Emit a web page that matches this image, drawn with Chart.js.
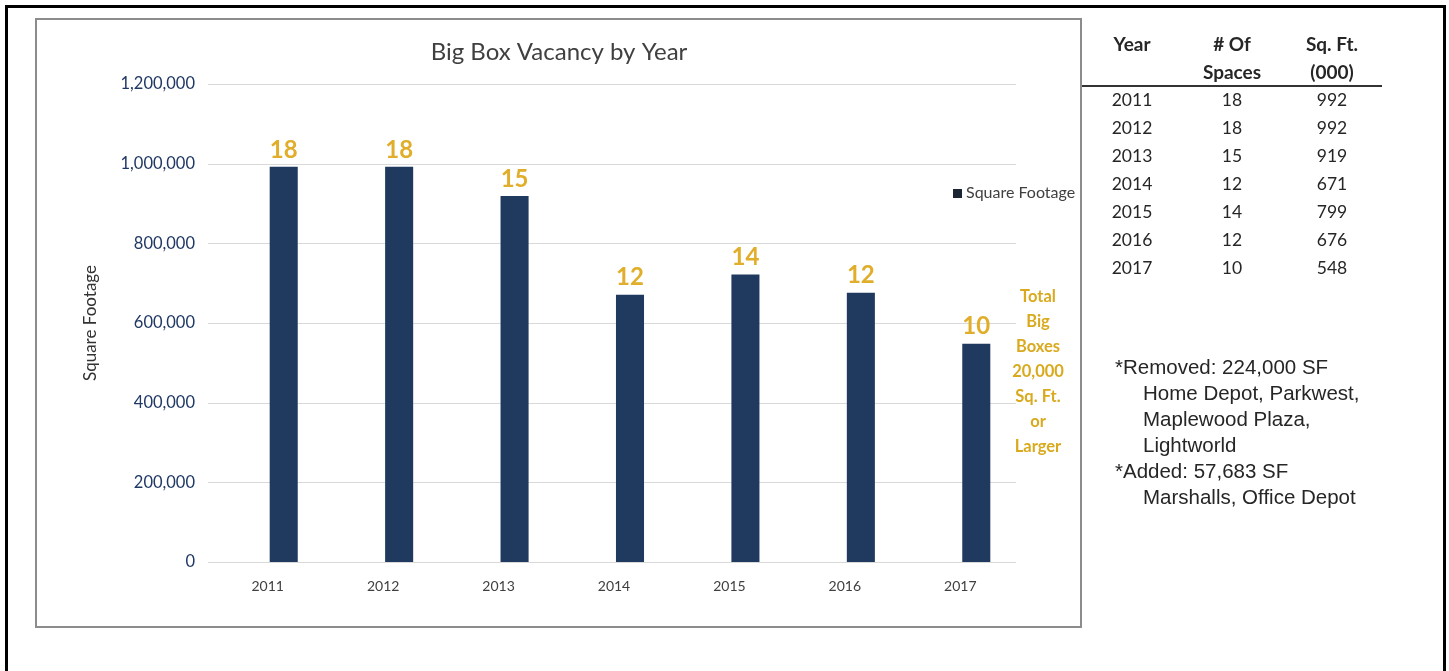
<!DOCTYPE html>
<html>
<head>
<meta charset="utf-8">
<script src="https://cdn.jsdelivr.net/npm/chart.js@4/dist/chart.umd.min.js"></script>
<style>
  html, body { margin: 0; padding: 0; background: #fff; width: 1449px; height: 671px; overflow: hidden; }
  #frame { position: absolute; left: 5px; top: 5px; width: 1441px; height: 720px; border: 3px solid #000; box-sizing: border-box; }
  #box { position: absolute; left: 35px; top: 18px; width: 1047px; height: 610px; border: 2px solid #8c8c8c; box-sizing: border-box; }
  #wrap { position: absolute; left: 0; top: 0; width: 1449px; height: 671px; }
  .cell { position: absolute; width: 100px; text-align: center; font-family: Lato, sans-serif; font-size: 17.5px; color: #262626; line-height: 28px; }
  .head { font-weight: bold; font-size: 19px; }
  #rule { position: absolute; left: 1082px; top: 85px; width: 300px; height: 2px; background: #333; }
  #notes { position: absolute; left: 1115px; top: 354px; font-family: "Liberation Sans", Arial, sans-serif; font-size: 20.5px; line-height: 26px; color: #262626; white-space: nowrap; }
  #notes .in { padding-left: 28px; }
</style>
</head>
<body>
<div id="frame"></div>
<div id="box"></div>
<div id="wrap"><canvas id="bigBoxChart" width="1449" height="671"></canvas></div>
<div id="table"></div>
<div id="rule"></div>
<div id="notes">
  <div>*Removed: 224,000 SF</div>
  <div class="in">Home Depot, Parkwest,</div>
  <div class="in">Maplewood Plaza,</div>
  <div class="in">Lightworld</div>
  <div>*Added: 57,683 SF</div>
  <div class="in">Marshalls, Office Depot</div>
</div>
<script>
// chart data
const years = ["2011", "2012", "2013", "2014", "2015", "2016", "2017"];
const squareFootage = [992000, 992000, 919000, 671000, 722000, 676000, 548000];
const spaceCounts = [18, 18, 15, 12, 14, 12, 10];
const yTicks = [0, 200000, 400000, 600000, 800000, 1000000, 1200000];

// side table data
const tableSpaces = [18, 18, 15, 12, 14, 12, 10];
const tableSqFt = [992, 992, 919, 671, 799, 676, 548];
const totalNote = ["Total", "Big", "Boxes", "20,000", "Sq. Ft.", "or", "Larger"];

const gold = "#E0AE2A";
const navy = "#1F3A5E";

// build the side table
const tableEl = document.getElementById("table");
function addCell(text, col, top, head) {
    const d = document.createElement("div");
    d.className = head ? "cell head" : "cell";
    d.style.left = (1082 + col * 100) + "px";
    d.style.top = top + "px";
    d.textContent = text;
    tableEl.appendChild(d);
}
addCell("Year", 0, 30, true);
addCell("# Of", 1, 30, true);
addCell("Spaces", 1, 58, true);
addCell("Sq. Ft.", 2, 30, true);
addCell("(000)", 2, 58, true);
years.forEach((y, i) => {
    addCell(y, 0, 86 + i * 28);
    addCell(String(tableSpaces[i]), 1, 86 + i * 28);
    addCell(String(tableSqFt[i]), 2, 86 + i * 28);
});

// gridlines drawn at the y scale ticks, a bit left of the category band
const gridPlugin = {
    id: "gridLines",
    beforeDatasetsDraw(chart) {
        const ctx = chart.ctx;
        const y = chart.scales.y;
        ctx.save();
        ctx.strokeStyle = "#d9d9d9";
        ctx.lineWidth = 1;
        y.ticks.forEach((t) => {
            const py = Math.round(y.getPixelForValue(t.value)) + 0.5;
            ctx.beginPath();
            ctx.moveTo(208, py);
            ctx.lineTo(1016, py);
            ctx.stroke();
        });
        ctx.restore();
    },
};

// count labels, title, legend and side note
const labelPlugin = {
    id: "extraText",
    afterDatasetsDraw(chart) {
        const ctx = chart.ctx;
        const meta = chart.getDatasetMeta(0);
        ctx.save();
        ctx.fillStyle = gold;
        ctx.font = "bold 24px Lato";
        ctx.textAlign = "center";
        ctx.textBaseline = "middle";
        meta.data.forEach((bar, i) => {
            ctx.fillText(String(spaceCounts[i]), bar.x, bar.y - 17);
        });

        ctx.font = "bold 16.5px Lato";
        ctx.fillStyle = "#D9AA1E";
        totalNote.forEach((line, i) => {
            ctx.fillText(line, 1038, 297 + i * 25);
        });

        ctx.fillStyle = "#404040";
        ctx.font = "24px Lato";
        ctx.fillText("Big Box Vacancy by Year", 559, 52);

        ctx.fillStyle = "#1c2533";
        ctx.fillRect(953, 189, 9, 9);
        ctx.fillStyle = "#404040";
        ctx.font = "16px Lato";
        ctx.textAlign = "left";
        ctx.fillText(chart.data.datasets[0].label, 966, 193);
        ctx.restore();
    },
};

const config = {
    type: "bar",
    data: {
        labels: years,
        datasets: [
            {
                label: "Square Footage",
                data: squareFootage,
                backgroundColor: navy,
                categoryPercentage: 1,
                barPercentage: 0.243,
            },
        ],
    },
    options: {
        responsive: false,
        animation: false,
        layout: { padding: { left: 0, right: 415, top: 84, bottom: 0 } },
        plugins: {
            legend: { display: false },
            title: { display: false },
            tooltip: { enabled: false },
        },
        scales: {
            x: {
                grid: { display: false, drawTicks: false },
                border: { display: false },
                ticks: { color: "#404040", font: { family: "Lato", size: 14 }, padding: 16, labelOffset: -16 },
                afterFit(scale) { scale.height = 109; },
            },
            y: {
                min: 0,
                max: yTicks[yTicks.length - 1],
                grid: { display: false, drawTicks: false },
                border: { display: false },
                afterBuildTicks(scale) { scale.ticks = yTicks.map((v) => ({ value: v })); },
                ticks: {
                    color: "#1F3864",
                    font: { family: "Lato", size: 16.5 },
                    padding: 31,
                    callback: (v) => Number(v).toLocaleString("en-US"),
                },
                title: {
                    display: true,
                    text: "Square Footage",
                    color: "#333",
                    font: { family: "Lato", size: 17 },
                    padding: { top: 80, bottom: 0 },
                },
                afterFit(scale) { scale.width = 226; },
            },
        },
    },
    plugins: [gridPlugin, labelPlugin],
};

window.bigBoxChart = new Chart(document.getElementById("bigBoxChart"), config);
</script>
</body>
</html>
